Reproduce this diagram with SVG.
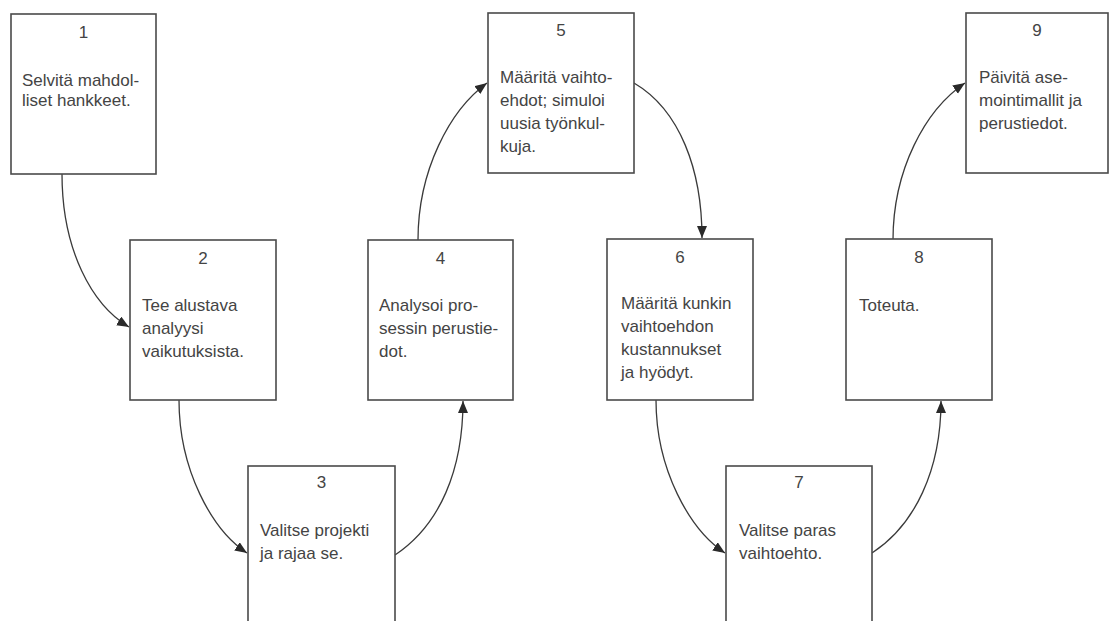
<svg xmlns="http://www.w3.org/2000/svg" width="1110" height="621" viewBox="0 0 1110 621">
<style>
.box{fill:#fff;stroke:#4a4a4a;stroke-width:1.6}
.num{font-family:"Liberation Sans",Arial,sans-serif;font-size:17px;fill:#444;text-anchor:middle}
.t{font-family:"Liberation Sans",Arial,sans-serif;font-size:17px;fill:#444}
.c{fill:none;stroke:#3a3a3a;stroke-width:1.3;marker-end:url(#ah)}
</style>
<defs>
<marker id="ah" markerUnits="userSpaceOnUse" markerWidth="14" markerHeight="12" refX="12" refY="5" orient="auto">
<path d="M0,0 L12,5 L0,10 Z" fill="#2a2a2a"/>
</marker>
</defs>
<rect width="1110" height="621" fill="#fff"/>
<g id="connectors">
<path class="c" d="M62,174 C62,250 92,305 129,327"/>
<path class="c" d="M179,400 C179,470 212,530 247,553"/>
<path class="c" d="M395,555 C440,525 463,470 463,401"/>
<path class="c" d="M418,240 C418,170 450,110 487,83"/>
<path class="c" d="M634,83 C680,110 702,170 702,238"/>
<path class="c" d="M656,400 C656,470 690,530 725,553"/>
<path class="c" d="M872,553 C915,525 941,470 941,401"/>
<path class="c" d="M893,240 C893,170 925,110 965,83"/>
</g>
<g id="node1">
<rect class="box" x="11" y="14" width="145" height="160"/>
<text class="num" x="83.5" y="38">1</text>
<text class="t" x="22" y="86">Selvitä mahdol-</text>
<text class="t" x="22" y="106">liset hankkeet.</text>
</g>
<g id="node2">
<rect class="box" x="130" y="240" width="146" height="160"/>
<text class="num" x="203" y="264">2</text>
<text class="t" x="142" y="311">Tee alustava</text>
<text class="t" x="142" y="334">analyysi</text>
<text class="t" x="142" y="357">vaikutuksista.</text>
</g>
<g id="node3">
<rect class="box" x="248" y="466" width="147" height="170"/>
<text class="num" x="321.5" y="488">3</text>
<text class="t" x="260" y="536">Valitse projekti</text>
<text class="t" x="260" y="559">ja rajaa se.</text>
</g>
<g id="node4">
<rect class="box" x="368" y="240" width="145" height="160"/>
<text class="num" x="440.5" y="264">4</text>
<text class="t" x="379" y="311">Analysoi pro-</text>
<text class="t" x="379" y="334">sessin perustie-</text>
<text class="t" x="379" y="357">dot.</text>
</g>
<g id="node5">
<rect class="box" x="488" y="13" width="146" height="160"/>
<text class="num" x="561" y="36">5</text>
<text class="t" x="500" y="83">Määritä vaihto-</text>
<text class="t" x="500" y="106">ehdot; simuloi</text>
<text class="t" x="500" y="129">uusia työnkul-</text>
<text class="t" x="500" y="152">kuja.</text>
</g>
<g id="node6">
<rect class="box" x="607" y="239" width="146" height="161"/>
<text class="num" x="680" y="263">6</text>
<text class="t" x="621" y="309">Määritä kunkin</text>
<text class="t" x="621" y="332">vaihtoehdon</text>
<text class="t" x="621" y="355">kustannukset</text>
<text class="t" x="621" y="378">ja hyödyt.</text>
</g>
<g id="node7">
<rect class="box" x="726" y="466" width="146" height="170"/>
<text class="num" x="799" y="488">7</text>
<text class="t" x="739" y="536">Valitse paras</text>
<text class="t" x="739" y="559">vaihtoehto.</text>
</g>
<g id="node8">
<rect class="box" x="846" y="239" width="146" height="161"/>
<text class="num" x="919" y="263">8</text>
<text class="t" x="859" y="311">Toteuta.</text>
</g>
<g id="node9">
<rect class="box" x="966" y="13" width="142" height="160"/>
<text class="num" x="1037" y="36">9</text>
<text class="t" x="979" y="83">Päivitä ase-</text>
<text class="t" x="979" y="106">mointimallit ja</text>
<text class="t" x="979" y="129">perustiedot.</text>
</g>
</svg>
